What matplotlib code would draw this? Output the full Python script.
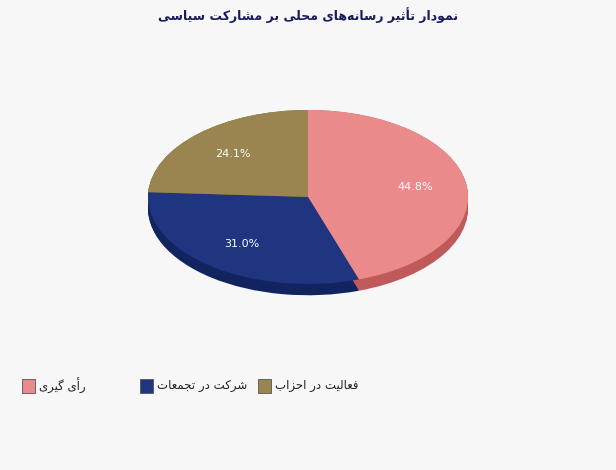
import matplotlib; matplotlib.use("Agg")
import matplotlib.pyplot as plt
from matplotlib.patches import Rectangle

# minimal arabic/persian shaper (presentation forms + rtl order)
FORMS = {  # iso, fin, ini, med (None for non-joining-left)
 'ا':(0xFE8D,0xFE8E,None,None),'أ':(0xFE83,0xFE84,None,None),
 'ب':(0xFE8F,0xFE90,0xFE91,0xFE92),'ت':(0xFE95,0xFE96,0xFE97,0xFE98),
 'ث':(0xFE99,0xFE9A,0xFE9B,0xFE9C),'ج':(0xFE9D,0xFE9E,0xFE9F,0xFEA0),
 'ح':(0xFEA1,0xFEA2,0xFEA3,0xFEA4),'د':(0xFEA9,0xFEAA,None,None),
 'ر':(0xFEAD,0xFEAE,None,None),'ز':(0xFEAF,0xFEB0,None,None),
 'س':(0xFEB1,0xFEB2,0xFEB3,0xFEB4),'ش':(0xFEB5,0xFEB6,0xFEB7,0xFEB8),
 'ع':(0xFEC9,0xFECA,0xFECB,0xFECC),'ف':(0xFED1,0xFED2,0xFED3,0xFED4),
 'ل':(0xFEDD,0xFEDE,0xFEDF,0xFEE0),'م':(0xFEE1,0xFEE2,0xFEE3,0xFEE4),
 'ن':(0xFEE5,0xFEE6,0xFEE7,0xFEE8),'ه':(0xFEE9,0xFEEA,0xFEEB,0xFEEC),
 'و':(0xFEED,0xFEEE,None,None),'ی':(0xFBFC,0xFBFD,0xFBFE,0xFBFF),
 'ک':(0xFB8E,0xFB8F,0xFB90,0xFB91),'گ':(0xFB92,0xFB93,0xFB94,0xFB95),
}
def shape(s):
    out=[]
    for i,c in enumerate(s):
        if c=='\u200c': continue
        if c not in FORMS: out.append(c); continue
        prev=s[i-1] if i>0 else ''
        nxt=s[i+1] if i+1<len(s) else ''
        jp = prev in FORMS and FORMS[prev][2] is not None
        jn = nxt in FORMS and FORMS[c][2] is not None
        f=FORMS[c]
        idx = 3 if (jp and jn) else 1 if jp else 2 if jn else 0
        out.append(chr(f[idx]))
    return ''.join(reversed(out))

title = "نمودار تأثیر رسانه\u200cهای محلی بر مشارکت سیاسی"
labels = ["رأی گیری", "شرکت در تجمعات", "فعالیت در احزاب"]
values = [44.8, 31.0, 24.1]
colors = ["#ea8a8a", "#1f3580", "#9a8450"]
sides = ["#c05a5a", "#122460", "#766338"]

plt.rcParams['font.family'] = ['DejaVu Sans']
fig = plt.figure(figsize=(6.16,4.70), dpi=100, facecolor="#f7f7f7")
fig.text(0.5, 1-15/470, shape(title), ha='center', va='center', fontsize=9, fontweight='bold', color='#1a1a5e')

ax = fig.add_axes([148/616, (470-297)/470, 320/616, 187/470])
ax.set_facecolor("#f7f7f7"); ax.axis('off')
ax.set_xlim(-1,1); ax.set_ylim(-1.15,1)
for k in range(14):
    ax.pie(values, colors=sides, startangle=90, counterclock=False, center=(0,-0.01*k), radius=1,
           wedgeprops=dict(linewidth=0))
ax.set_xlim(-1,1); ax.set_ylim(-1.15,1)
ax.pie(values, colors=colors, startangle=90, counterclock=False, radius=1,
       autopct='%.1f%%', pctdistance=0.68, wedgeprops=dict(linewidth=0),
       textprops=dict(color='white', fontsize=8))
ax.set_xlim(-1,1); ax.set_ylim(-1.15,1); ax.set_aspect('auto')

for i,(lab,c) in enumerate(zip(labels,colors)):
    x0 = (22+118*i)/616
    fig.patches.append(Rectangle((x0, 1-393/470), 13/616, 14/470, transform=fig.transFigure,
                                 facecolor=c, edgecolor='#555555', lw=0.6))
    fig.text(x0+17/616, 1-386/470, shape(lab), ha='left', va='center', fontsize=8.5, color='#222222')

fig.savefig("out.png", dpi=100, facecolor=fig.get_facecolor())
